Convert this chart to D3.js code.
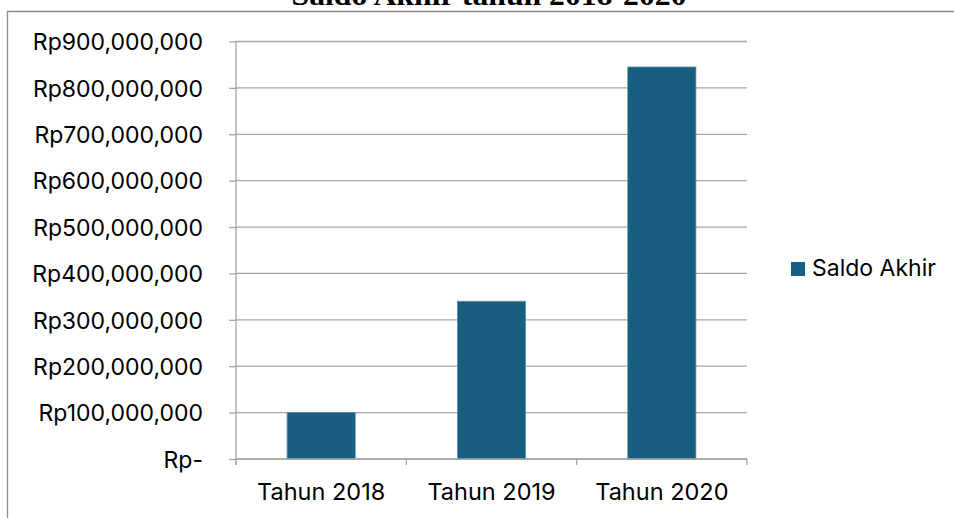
<!DOCTYPE html>
<html>
<head>
<meta charset="utf-8">
<script src="https://cdn.jsdelivr.net/npm/d3@7"></script>
<style>
  html, body { margin: 0; padding: 0; background: #fff; }
  svg { display: block; }
</style>
</head>
<body>
<svg id="chart" width="954" height="518"></svg>
<script>
const categories = ["Tahun 2018", "Tahun 2019", "Tahun 2020"];
const saldoAkhir = [100000000, 340000000, 845000000];
const yTicks = [0, 100000000, 200000000, 300000000, 400000000, 500000000, 600000000, 700000000, 800000000, 900000000];
const seriesName = "Saldo Akhir";
const titleText = "Saldo Akhir tahun 2018-2020";

const svg = d3.select("#chart");
const W = 954, H = 518;
const plot = { left: 236, right: 747, top: 41.5, bottom: 459 };
const font = "Inter, 'Open Sans', 'Liberation Sans', sans-serif";

// outer frame (chart area border: left and top edges visible)
svg.append("path")
  .attr("d", `M7.5,${H + 2}V11.5H${W + 2}`)
  .attr("fill", "none").attr("stroke", "#8c8c8c").attr("stroke-width", 1.3);

// title (partly cut off at top, as in the reference)
svg.append("text")
  .attr("x", 489).attr("y", 5)
  .attr("text-anchor", "middle")
  .attr("font-family", "'Liberation Serif', 'DejaVu Serif', serif")
  .attr("font-weight", "bold")
  .attr("font-size", 30)
  .attr("textLength", 395).attr("lengthAdjust", "spacingAndGlyphs")
  .attr("fill", "#000")
  .text(titleText);

const y = d3.scaleLinear().domain([0, 900000000]).range([plot.bottom, plot.top]);
const x = d3.scaleBand().domain(categories).range([plot.left, plot.right])
  .paddingInner(0.6).paddingOuter(0.3);
const xOuter = d3.scaleBand().domain(categories).range([plot.left, plot.right]).padding(0);

// gridlines
svg.append("g")
  .selectAll("line")
  .data(yTicks)
  .join("line")
  .attr("x1", plot.left).attr("x2", plot.right)
  .attr("y1", d => y(d)).attr("y2", d => y(d))
  .attr("stroke", "#a6a6a6").attr("stroke-width", 1.3);

// y axis
const fmt = d3.format(",");
const yAxis = svg.append("g")
  .attr("transform", `translate(${plot.left},0)`)
  .call(d3.axisLeft(y).tickValues(yTicks).tickSize(7).tickPadding(26)
    .tickFormat(d => d === 0 ? "Rp-" : "Rp" + fmt(d)));
yAxis.select(".domain").attr("stroke", "#a6a6a6").attr("stroke-width", 1.3)
  .attr("d", `M-0,${plot.top}V${plot.bottom + 6}`);
yAxis.selectAll(".tick line").attr("stroke", "#a6a6a6").attr("stroke-width", 1.3);
yAxis.selectAll(".tick text")
  .attr("font-family", font).attr("font-size", 23).attr("fill", "#000")
  .attr("dy", "0.36em");

// bars
svg.append("g")
  .selectAll("rect")
  .data(categories.map((c, i) => ({ c, v: saldoAkhir[i] })))
  .join("rect")
  .attr("x", d => x(d.c))
  .attr("y", d => y(d.v))
  .attr("width", x.bandwidth())
  .attr("height", d => y(0) - y(d.v))
  .attr("fill", "#175e80")
  .attr("stroke", "#5d8ea8").attr("stroke-width", 0.8);

// x axis
const xAxisG = svg.append("g").attr("transform", `translate(0,${plot.bottom})`);
xAxisG.append("line")
  .attr("x1", plot.left).attr("x2", plot.right)
  .attr("y1", 0).attr("y2", 0)
  .attr("stroke", "#a6a6a6").attr("stroke-width", 1.3);
const bounds = categories.map(c => xOuter(c)).concat([plot.right]);
xAxisG.selectAll("line.bt")
  .data(bounds)
  .join("line")
  .attr("class", "bt")
  .attr("x1", d => d).attr("x2", d => d)
  .attr("y1", 0).attr("y2", 6)
  .attr("stroke", "#a6a6a6").attr("stroke-width", 1.3);
const xLab = svg.append("g")
  .attr("transform", `translate(0,${plot.bottom})`)
  .call(d3.axisBottom(xOuter).tickSize(0).tickPadding(0));
xLab.select(".domain").remove();
xLab.selectAll(".tick text")
  .attr("font-family", font).attr("font-size", 23.5).attr("fill", "#000")
  .attr("dy", 0).attr("y", 40.5);

// legend
const lg = svg.append("g").attr("transform", "translate(791,262)");
lg.append("rect").attr("width", 14).attr("height", 14).attr("fill", "#175e80");
lg.append("text")
  .attr("x", 21).attr("y", 14)
  .attr("font-family", font).attr("font-size", 23).attr("fill", "#000")
  .text(seriesName);
</script>
</body>
</html>
